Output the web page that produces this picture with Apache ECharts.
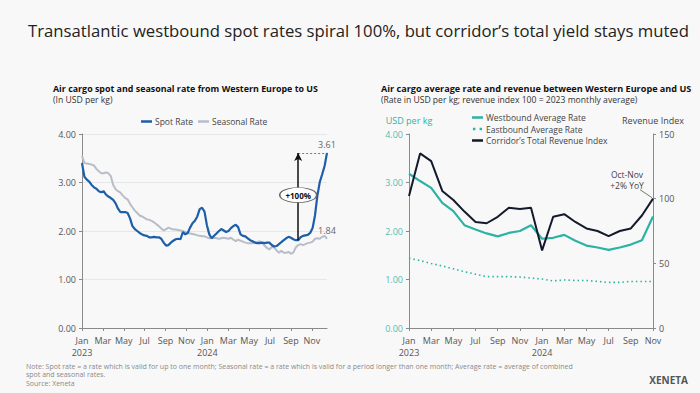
<!DOCTYPE html>
<html><head><meta charset="utf-8">
<script src="https://cdn.jsdelivr.net/npm/echarts@6/dist/echarts.min.js"></script>
<style>html,body{margin:0;padding:0;background:#f8f8f8}#c{width:700px;height:393px}</style>
</head><body><div id="c"></div>
<script>
// ---------- data ----------
const spotRate = [3.40,3.12,3.06,3.02,2.95,2.90,2.87,2.82,2.80,2.82,2.75,2.71,2.68,2.64,2.57,2.46,2.39,2.39,2.39,2.37,
  2.26,2.10,2.04,2.00,1.96,1.93,1.91,1.90,1.87,1.87,1.88,1.87,1.87,1.84,1.76,1.70,1.71,1.76,1.80,1.83,
  1.84,1.83,1.98,1.93,1.96,2.07,2.16,2.21,2.30,2.45,2.48,2.40,2.12,1.93,1.85,1.90,1.95,2.00,2.04,2.01,
  1.98,2.00,2.06,2.10,2.13,2.08,1.93,1.90,1.89,1.85,1.81,1.79,1.76,1.75,1.75,1.76,1.75,1.76,1.76,1.71,
  1.68,1.69,1.73,1.77,1.81,1.85,1.88,1.86,1.83,1.81,1.81,1.87,1.90,1.91,1.92,1.96,2.06,2.32,2.73,3.01,
  3.17,3.34,3.61];
const seasonalRate = [3.55,3.40,3.39,3.38,3.37,3.35,3.28,3.23,3.19,3.19,3.21,3.19,3.13,2.95,2.86,2.82,2.79,2.73,2.68,2.65,
  2.56,2.49,2.42,2.37,2.32,2.30,2.27,2.24,2.23,2.21,2.18,2.14,2.10,2.05,2.01,2.04,2.07,2.05,2.03,2.03,
  2.02,2.01,2.00,1.98,1.96,1.95,1.94,1.93,1.91,1.90,1.89,1.89,1.87,1.85,1.85,1.86,1.85,1.84,1.85,1.86,
  1.85,1.84,1.86,1.82,1.79,1.82,1.80,1.78,1.76,1.75,1.75,1.75,1.76,1.77,1.79,1.75,1.70,1.65,1.62,1.67,
  1.66,1.60,1.55,1.59,1.55,1.55,1.57,1.53,1.56,1.66,1.71,1.73,1.71,1.73,1.75,1.76,1.78,1.84,1.85,1.84,
  1.88,1.90,1.84];
const leftTickLabels = ['Jan\n2023','Mar','May','Jul','Sep','Nov','Jan\n2024','Mar','May','Jul','Sep','Nov'];
const months = ['Jan\n2023','Feb','Mar','Apr','May','Jun','Jul','Aug','Sep','Oct','Nov','Dec',
  'Jan\n2024','Feb','Mar','Apr','May','Jun','Jul','Aug','Sep','Oct','Nov'];
const westbound = [3.18,3.03,2.89,2.58,2.41,2.12,2.03,1.95,1.89,1.96,2.00,2.12,1.84,1.86,1.92,1.80,1.70,1.66,1.61,1.66,1.72,1.81,2.30];
const eastbound = [1.44,1.39,1.33,1.28,1.22,1.16,1.11,1.06,1.06,1.06,1.05,1.03,1.01,0.97,0.99,0.98,0.98,0.96,0.94,0.94,0.96,0.96,0.96];
const revenueIndex = [102,135,129,106,99,90,82,81,86,93,92,93,60,86,88,82,77,75,71,75,77,87,100];
const surgeFromWeek = 90;
const surgeLabel = '+100%';
const revenueNote = 'Oct-Nov\n+2% YoY';

// ---------- chart ----------
const FONT = '"Open Sans", "Noto Sans", sans-serif';
const WEEKS_PER_MONTH = 52.18 / 12;
const wk = i => i / WEEKS_PER_MONTH;
const toPts = arr => arr.map((v, i) => [wk(i), v]);
const lastW = spotRate.length - 1;
const BLUE = '#1d5ea8', GREY = '#b9bdc8', TEAL = '#2bb3a3', DARK = '#141a2c', AX = '#8a8a8a', LBL = '#555';

const chart = echarts.init(document.getElementById('c'), null, {renderer: 'svg'});
const axisCommon = {
  axisLine: {show: true, lineStyle: {color: AX, width: 1}},
  axisTick: {show: true, length: 3, lineStyle: {color: AX}},
  axisLabel: {color: LBL, fontSize: 9, fontFamily: FONT, margin: 6, lineHeight: 12}
};
const legendText = {fontSize: 8.5, color: '#444', fontFamily: FONT, padding: [0, 0, 0, -2]};

const option = {
  backgroundColor: '#f8f8f8',
  animation: false,
  textStyle: {fontFamily: FONT},
  grid: [
    {left: 82, top: 134, width: 245, height: 194},
    {left: 409, top: 134, width: 244, height: 194}
  ],
  legend: [
    {data: [{name: 'Spot Rate', icon: 'rect'}, {name: 'Seasonal Rate', icon: 'rect'}],
     left: 136, top: 112, itemWidth: 11, itemHeight: 2.5, itemGap: 5, textStyle: legendText},
    {data: [{name: 'Westbound Average Rate', icon: 'rect'},
            {name: 'Eastbound Average Rate', icon: 'path://M0,0h3v3h-3z M8,0h3v3h-3z'},
            {name: "Corridor’s Total Revenue Index", icon: 'rect'}],
     orient: 'vertical', left: 467, top: 108, itemWidth: 11, itemHeight: 2.5, itemGap: 2.5, textStyle: legendText}
  ],
  xAxis: [
    Object.assign({}, axisCommon, {type: 'value', gridIndex: 0, min: 0, max: wk(lastW), interval: 2,
      splitLine: {show: false},
      axisLabel: Object.assign({}, axisCommon.axisLabel, {showMaxLabel: false,
        formatter: v => leftTickLabels[Math.round(v / 2)] || ''})}),
    Object.assign({}, axisCommon, {type: 'category', gridIndex: 1, data: months, boundaryGap: false,
      axisTick: {show: true, length: 3, interval: 1, lineStyle: {color: AX}},
      axisLabel: Object.assign({}, axisCommon.axisLabel, {interval: 1})})
  ],
  yAxis: [
    Object.assign({}, axisCommon, {type: 'value', gridIndex: 0, min: 0, max: 4, interval: 1,
      splitLine: {show: true, lineStyle: {color: '#e6e7ea', width: 1}},
      axisLabel: Object.assign({}, axisCommon.axisLabel, {formatter: v => v.toFixed(2)})}),
    Object.assign({}, axisCommon, {type: 'value', gridIndex: 1, min: 0, max: 4, interval: 1,
      splitLine: {show: false},
      name: 'USD per kg', nameLocation: 'end', nameGap: 9,
      nameTextStyle: {color: TEAL, fontSize: 9, fontFamily: FONT},
      axisLabel: Object.assign({}, axisCommon.axisLabel, {color: '#55bdb1', formatter: v => v.toFixed(2)})}),
    Object.assign({}, axisCommon, {type: 'value', gridIndex: 1, position: 'right', min: 0, max: 150, interval: 50,
      splitLine: {show: false},
      name: 'Revenue Index', nameLocation: 'end', nameGap: 9,
      nameTextStyle: {color: '#444', fontSize: 9, fontFamily: FONT}})
  ],
  series: [
    {name: 'Seasonal Rate', type: 'line', xAxisIndex: 0, yAxisIndex: 0, data: toPts(seasonalRate),
     symbol: 'none', lineStyle: {color: GREY, width: 2}, itemStyle: {color: GREY}, z: 2,
     markPoint: {silent: true, symbol: 'circle', symbolSize: 1, itemStyle: {color: 'rgba(0,0,0,0)'},
       label: {show: true, position: 'top', distance: 3, color: '#666', fontSize: 9, fontFamily: FONT,
         formatter: p => p.value.toFixed(2)},
       data: [{coord: [wk(lastW), seasonalRate[lastW]], value: seasonalRate[lastW]}]}},
    {name: 'Spot Rate', type: 'line', xAxisIndex: 0, yAxisIndex: 0, data: toPts(spotRate),
     symbol: 'none', lineStyle: {color: BLUE, width: 2.2}, itemStyle: {color: BLUE}, z: 3,
     markLine: {silent: true, animation: false, label: {show: false}, symbol: ['none', 'none'],
       data: [
         [{coord: [wk(surgeFromWeek), spotRate[lastW]], lineStyle: {color: '#777', type: [2, 2], width: 1}},
          {coord: [wk(lastW), spotRate[lastW]]}],
         [{coord: [wk(surgeFromWeek), spotRate[surgeFromWeek]], symbol: 'none', lineStyle: {color: '#111', type: 'solid', width: 1.5}},
          {coord: [wk(surgeFromWeek), spotRate[lastW]], symbol: 'arrow', symbolSize: [6, 8]}]
       ]},
     markPoint: {silent: true, data: [
       {coord: [wk(lastW), spotRate[lastW]], value: spotRate[lastW], symbol: 'circle', symbolSize: 1,
        itemStyle: {color: 'rgba(0,0,0,0)'},
        label: {show: true, position: 'top', distance: 3, color: '#666', fontSize: 9, fontFamily: FONT,
          formatter: p => p.value.toFixed(2)}},
       {coord: [wk(surgeFromWeek), (spotRate[surgeFromWeek] + spotRate[lastW]) / 2 + 0.03],
        symbol: 'circle', symbolSize: [37, 15],
        itemStyle: {color: '#fff', borderColor: '#666', borderWidth: 1},
        label: {show: true, position: 'inside', color: '#111', fontSize: 8, fontWeight: 'bold', fontFamily: FONT,
          formatter: () => surgeLabel}}
     ]}},
    {name: 'Eastbound Average Rate', type: 'line', xAxisIndex: 1, yAxisIndex: 1, data: eastbound,
     symbol: 'none', lineStyle: {color: TEAL, width: 1.6, type: [1.5, 3]}, itemStyle: {color: TEAL}},
    {name: 'Westbound Average Rate', type: 'line', xAxisIndex: 1, yAxisIndex: 1, data: westbound,
     symbol: 'none', lineStyle: {color: TEAL, width: 2.2}, itemStyle: {color: TEAL}},
    {name: "Corridor’s Total Revenue Index", type: 'line', xAxisIndex: 1, yAxisIndex: 2, data: revenueIndex,
     symbol: 'none', lineStyle: {color: DARK, width: 2}, itemStyle: {color: DARK}}
  ],
  graphic: [
    {type: 'text', left: 28, top: 22, style: {text: 'Transatlantic westbound spot rates spiral 100%, but corridor’s total yield stays muted',
      font: '16.7px ' + FONT, fill: '#222'}},
    {type: 'text', left: 53, top: 83.5, style: {text: 'Air cargo spot and seasonal rate from Western Europe to US',
      font: 'bold 8.9px ' + FONT, fill: '#111'}},
    {type: 'text', left: 53, top: 95.5, style: {text: '(In USD per kg)', font: '8.6px ' + FONT, fill: '#333'}},
    {type: 'text', left: 381, top: 83.5, style: {text: 'Air cargo average rate and revenue between Western Europe and US',
      font: 'bold 9.1px ' + FONT, fill: '#111'}},
    {type: 'text', left: 381, top: 95.5, style: {text: '(Rate in USD per kg; revenue index 100 = 2023 monthly average)',
      font: '8.6px ' + FONT, fill: '#333'}},
    {type: 'text', left: 26, top: 362, style: {text: 'Note: Spot rate = a rate which is valid for up to one month; Seasonal rate = a rate which is valid for a period longer than one month; Average rate = average of combined\nspot and seasonal rates.\nSource: Xeneta',
      font: '7px ' + FONT, fill: '#8a8a8a', lineHeight: 8.5}},
    {type: 'text', right: 12, top: 375, style: {text: 'XENETA', font: 'bold 10px ' + FONT, fill: '#555'}}
  ]
};
chart.setOption(option);

// Annotation for the revenue index end point, positioned through the chart's own scales
const p = chart.convertToPixel({xAxisIndex: 1, yAxisIndex: 2}, [revenueIndex.length - 1, revenueIndex[revenueIndex.length - 1]]);
chart.setOption({graphic: option.graphic.concat([
  {type: 'line', shape: {x1: p[0] - 13, y1: p[1] - 9, x2: p[0] - 1, y2: p[1] - 1}, style: {stroke: '#555', lineWidth: 0.8}},
  {type: 'text', x: p[0] - 26, y: p[1] - 29, style: {text: revenueNote, font: '8.5px ' + FONT, fill: '#444',
    align: 'center', lineHeight: 10.5}}
])});
</script>
</body></html>
